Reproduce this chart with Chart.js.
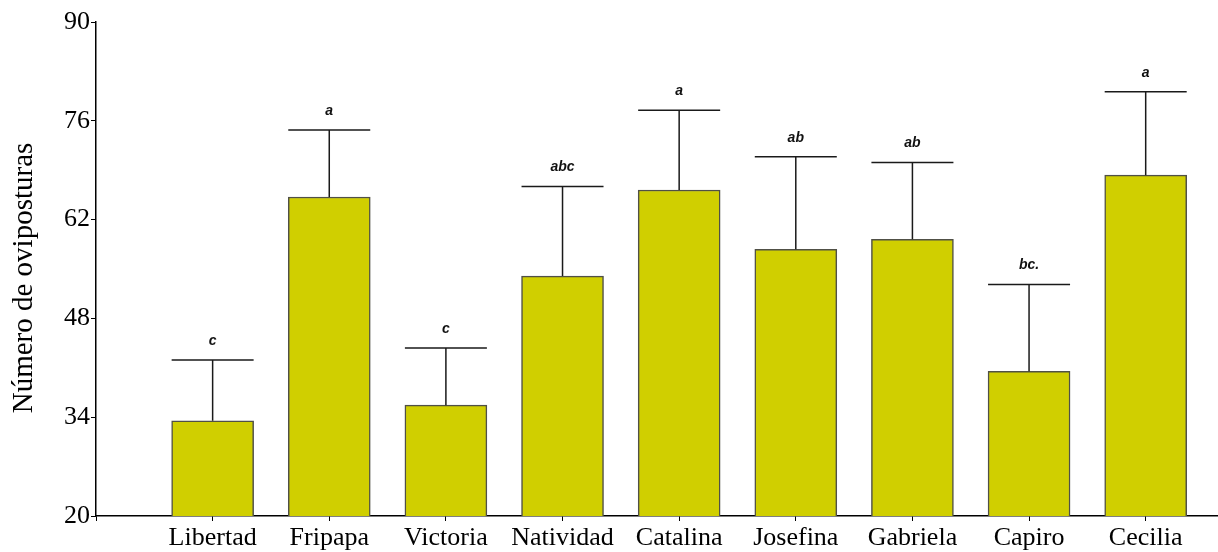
<!DOCTYPE html>
<html>
<head>
<meta charset="utf-8">
<script src="https://cdn.jsdelivr.net/npm/chart.js@4.4.1/dist/chart.umd.min.js"></script>
<style>
  html, body { margin: 0; padding: 0; background: #fff; }
  #wrap { width: 1218px; height: 552px; }
</style>
</head>
<body>
<div id="wrap"><canvas id="c" width="1218" height="552"></canvas></div>
<script>
// Oviposition counts per variety: mean, standard error and significance group
const categories = ['Libertad', 'Fripapa', 'Victoria', 'Natividad', 'Catalina', 'Josefina', 'Gabriela', 'Capiro', 'Cecilia'];
const means = [33.5, 65.2, 35.7, 54.0, 66.2, 57.8, 59.2, 40.5, 68.3];
const errors = [8.6, 9.5, 8.1, 12.7, 11.3, 13.1, 10.9, 12.3, 11.8];
const groups = ['c', 'a', 'c', 'abc', 'a', 'ab', 'ab', 'bc.', 'a'];
const yTicks = [20, 34, 48, 62, 76, 90];
const yTitle = 'Número de oviposturas';

const serif = "'Liberation Serif', 'Times New Roman', serif";

// Whisker above each bar plus the letter grouping over it
const errorBarPlugin = {
  id: 'errorBars',
  afterDatasetsDraw(chart) {
    const ctx = chart.ctx;
    const meta = chart.getDatasetMeta(0);
    const yScale = chart.scales.y;
    ctx.save();
    meta.data.forEach((bar, i) => {
      const half = bar.width / 2;
      const yMean = yScale.getPixelForValue(means[i]);
      const yTop = yScale.getPixelForValue(means[i] + errors[i]);
      ctx.strokeStyle = '#1a1a1a';
      ctx.lineWidth = 1.5;
      ctx.beginPath();
      ctx.moveTo(bar.x, yMean);
      ctx.lineTo(bar.x, yTop);
      ctx.moveTo(bar.x - half, yTop);
      ctx.lineTo(bar.x + half, yTop);
      ctx.stroke();
      ctx.fillStyle = '#111';
      ctx.font = "bold italic 14px 'Liberation Sans', Arial, sans-serif";
      ctx.textAlign = 'center';
      ctx.textBaseline = 'middle';
      ctx.fillText(groups[i], bar.x, yTop - 19);
    });
    ctx.restore();
  }
};

// Vertical axis title, rotated, slightly below the plot's midline
const yTitlePlugin = {
  id: 'yTitle',
  afterDraw(chart) {
    const ctx = chart.ctx;
    const area = chart.chartArea;
    ctx.save();
    ctx.translate(24, (area.top + area.bottom) / 2 + 9);
    ctx.rotate(-Math.PI / 2);
    ctx.fillStyle = '#000';
    ctx.font = '29px ' + serif;
    ctx.textAlign = 'center';
    ctx.textBaseline = 'middle';
    ctx.fillText(yTitle, 0, 0);
    ctx.restore();
  }
};

new Chart(document.getElementById('c'), {
  type: 'bar',
  data: {
    datasets: [{
      data: means.map((v, i) => ({ x: i + 1, y: v })),
      backgroundColor: '#D0CF00',
      borderColor: '#505046',
      borderWidth: 1.5,
      barThickness: 82
    }]
  },
  options: {
    responsive: false,
    animation: false,
    layout: { padding: { top: 22, right: 0, left: 0, bottom: 0 } },
    plugins: { legend: { display: false }, tooltip: { enabled: false } },
    scales: {
      x: {
        type: 'linear',
        offset: false,
        min: 0,
        max: 9.62,
        afterFit(scale) { scale.height = 36; },
        afterBuildTicks(scale) { scale.ticks = [0].concat(categories.map((c, i) => i + 1)).map(v => ({ value: v })); },
        border: { display: true, color: '#000', width: 1.5 },
        grid: { drawOnChartArea: false, drawTicks: true, tickLength: 5, color: '#000', lineWidth: 1, offset: false },
        ticks: {
          autoSkip: false,
          maxRotation: 0,
          padding: 2,
          color: '#000',
          font: { family: serif, size: 26 },
          callback: (v) => (v >= 1 && v <= categories.length) ? categories[v - 1] : ''
        }
      },
      y: {
        min: 20,
        max: 90,
        afterFit(scale) { scale.width = 96; },
        afterBuildTicks(scale) { scale.ticks = yTicks.map(v => ({ value: v })); },
        border: { display: true, color: '#000', width: 1.5 },
        grid: { drawOnChartArea: false, drawTicks: true, tickLength: 5, color: '#000', lineWidth: 1 },
        ticks: {
          padding: 1,
          color: '#000',
          font: { family: serif, size: 26 }
        }
      }
    }
  },
  plugins: [errorBarPlugin, yTitlePlugin]
});
</script>
</body>
</html>
